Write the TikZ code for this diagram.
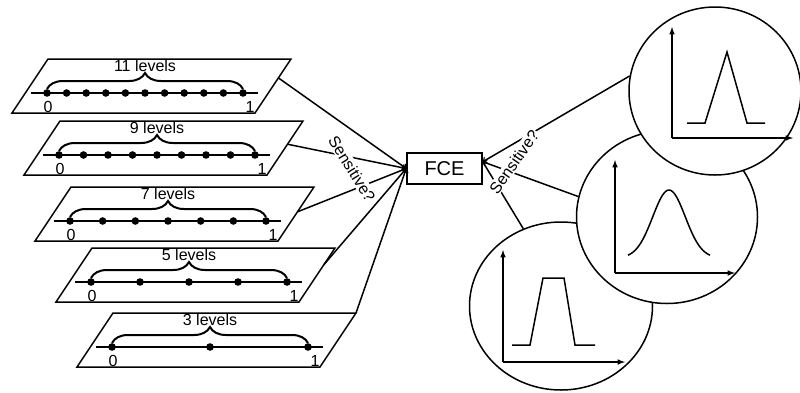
\documentclass[tikz,border=0pt]{standalone}
\usepackage{fontspec}
\setmainfont{Liberation Sans}
\usetikzlibrary{arrows, decorations.pathreplacing, shapes.geometric, calc}

\tikzset{
	plane/.style={line width=1.5pt},
	brc/.style={decorate, decoration={brace, amplitude=16pt}, line width=2pt},
	lvl/.style={font=\fontsize{16}{19}\selectfont, inner sep=1pt},
	sens/.style={fill=white, inner sep=1pt, font=\fontsize{16}{19}\selectfont},
	conn/.style={->, line width=1.5pt},
	crc/.style={ellipse, draw, fill=white, line width=1.5pt, inner sep=0pt},
	ax/.style={-latex, line width=1.5pt}
}

\begin{document}
\begin{tikzpicture}[x=1pt, y=-1pt, line width=1.5pt]
		\useasboundingbox (0,0) rectangle (800,392);
		
		% the five level planes
		\foreach \bx/\by/\n/\f in {12/113/11/0.35, 24/175/9/0.43, 35/241/7/0.46, 56/302/5/0.31, 77/367/3/0}{
			\draw[plane] (\bx,\by) -- ++(243,0) -- ++(36,-54) -- ++(-243,0) -- cycle;
			\draw (\bx+19,\by-20) -- (\bx+246,\by-20);
			\pgfmathtruncatemacro\m{\n-1}
			\foreach \k in {0,...,\m}
				\fill (\bx+35+196*\k/\m,\by-20) circle (3.8pt);
			\draw[brc] (\bx+35,\by-24) -- (\bx+231,\by-24);
			\node[lvl] (lv\n) at (\bx+133,\by-47) {\n\ levels};
			\node[lvl] (zero\n) at (\bx+36,\by-6) {0};
			\node[lvl] (one\n) at (\bx+238,\by-6) {1};
			\coordinate (pl\n) at ($(\bx+279,\by-54)!\f!(\bx+243,\by)$);
		}
		
		\node[draw, minimum width=75pt, minimum height=31pt, inner sep=0pt, font=\fontsize{20}{24}\selectfont] (fce) at (444.5,168.5) {FCE};
		
		\foreach \n in {11,9,7,5,3}
			\draw[conn] (pl\n) -- (fce.west);
		\node[sens, rotate=-58] (sl) at (352,169) {Sensitive?};
		
		% membership functions
		\node[crc, minimum width=183pt, minimum height=168pt] (cC) at (561,306) {};
		\draw[ax] (503,362) -- (503,250);
		\draw[ax] (503,362) -- (625,362);
		\draw (512,345) -- (530,345) -- (543,278) -- (564,278) -- (575,345) -- (595,345);
		
		\node[crc, minimum width=181pt, minimum height=173pt] (cB) at (667,217) {};
		\draw[ax] (615,273) -- (615,160);
		\draw[ax] (615,273) -- (735,273);
		\draw plot[domain=-41:41, samples=60, smooth] ({669+\x},{258-68*exp(-(\x)*(\x)/529)});
		
		\node[crc, minimum width=172pt, minimum height=168pt] (cA) at (715,91) {};
		\draw[ax] (672,138) -- (672,27);
		\draw[ax] (672,138) -- (793,138);
		\draw (687,123) -- (705,123) -- (727,52) -- (747,123) -- (765,123);
		
		\draw[conn] (cA.170) -- (fce.10);
		\draw[conn] (cB.167) -- (fce.10);
		\draw[conn] (cC.116) -- (fce.10);
		\node[sens, rotate=55] (sr) at (514,162) {Sensitive?};
\end{tikzpicture}
\end{document}
